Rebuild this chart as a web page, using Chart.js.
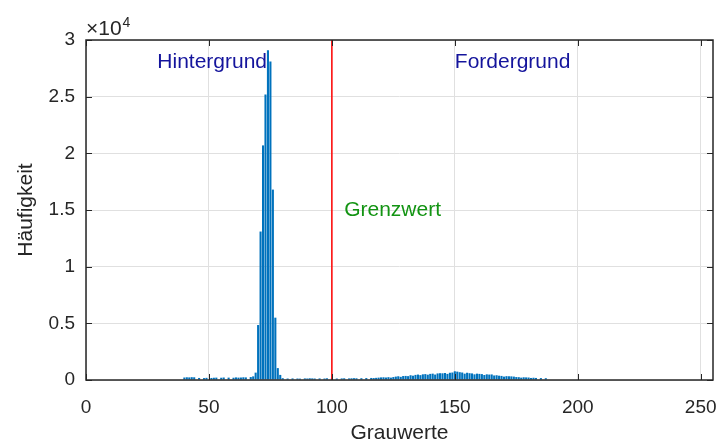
<!DOCTYPE html>
<html>
<head>
<meta charset="utf-8">
<script src="https://cdn.jsdelivr.net/npm/chart.js@4.4.0/dist/chart.umd.min.js"></script>
<style>
  html, body { margin: 0; padding: 0; background: #fff; }
  canvas { display: block; }
</style>
</head>
<body>
<canvas id="chart" width="720" height="444"></canvas>
<script>
// Histogramm der Grauwerte 0..255
const grauwerte = Array.from({ length: 256 }, (_, i) => i);
const haeufigkeit = [
    0, 0, 0, 0, 0, 0, 0, 0, 0, 0, 0, 0, 0, 0, 0, 0,
    0, 0, 0, 0, 0, 0, 0, 0, 0, 0, 0, 0, 0, 0, 0, 0,
    0, 0, 0, 0, 0, 0, 0, 0, 220, 240, 230, 250, 240, 0, 180, 0,
    170, 190, 0, 180, 200, 210, 0, 200, 220, 0, 210, 0, 200, 230, 210, 220,
    240, 230, 0, 260, 320, 650, 4850, 13100, 20700, 25200, 29100, 28100, 16800, 5500, 1050, 450,
    160, 0, 130, 0, 140, 0, 130, 120, 0, 140, 130, 150, 140, 130, 0, 140,
    0, 130, 150, 0, 140, 0, 130, 0, 140, 150, 0, 140, 150, 160, 150, 0,
    160, 0, 170, 0, 180, 170, 190, 210, 230, 240, 220, 250, 210, 260, 300, 330,
    280, 350, 360, 340, 420, 380, 450, 480, 430, 500, 520, 470, 540, 560, 480, 580,
    600, 590, 620, 540, 640, 660, 770, 740, 690, 660, 560, 640, 600, 580, 500, 560,
    540, 520, 440, 500, 480, 490, 400, 420, 380, 360, 300, 340, 330, 320, 300, 260,
    250, 210, 240, 230, 220, 180, 200, 180, 0, 170, 0, 160, 0, 0, 0, 0,
    0, 0, 0, 0, 0, 0, 0, 0, 0, 0, 0, 0, 0, 0, 0, 0,
    0, 0, 0, 0, 0, 0, 0, 0, 0, 0, 0, 0, 0, 0, 0, 0,
    0, 0, 0, 0, 0, 0, 0, 0, 0, 0, 0, 0, 0, 0, 0, 0,
    0, 0, 0, 0, 0, 0, 0, 0, 0, 0, 0, 0, 0, 0, 0, 0
];
const schwellwert = 100;
const xTicks = [0, 50, 100, 150, 200, 250];
const yTicks = [0, 5000, 10000, 15000, 20000, 25000, 30000];
const beschriftungen = [
    { text: 'Hintergrund', x: 29, y: 28000, color: '#14149c' },
    { text: 'Fordergrund', x: 150, y: 28000, color: '#14149c' },
    { text: 'Grenzwert', x: 105, y: 15000, color: '#139413' }
];

const axisColor = '#262626';
const fontFamily = '"Liberation Sans", Arial, Helvetica, sans-serif';

const rahmenPlugin = {
    id: 'rahmen',
    afterDraw(chart) {
        const ctx = chart.ctx;
        const a = chart.chartArea;
        const x = chart.scales.x;
        const y = chart.scales.y;
        ctx.save();
        ctx.strokeStyle = axisColor;
        ctx.lineWidth = 1;
        ctx.beginPath();
        xTicks.forEach(v => {
            const px = Math.round(x.getPixelForValue(v)) + 0.5;
            ctx.moveTo(px, a.bottom); ctx.lineTo(px, a.bottom - 6);
            ctx.moveTo(px, a.top); ctx.lineTo(px, a.top + 6);
        });
        yTicks.forEach(v => {
            const py = Math.round(y.getPixelForValue(v)) + 0.5;
            ctx.moveTo(a.left, py); ctx.lineTo(a.left + 6, py);
            ctx.moveTo(a.right, py); ctx.lineTo(a.right - 6, py);
        });
        ctx.stroke();
        ctx.lineWidth = 1.5;
        ctx.strokeRect(a.left, a.top, a.right - a.left, a.bottom - a.top);

        // Exponent
        ctx.fillStyle = axisColor;
        ctx.textBaseline = 'alphabetic';
        ctx.textAlign = 'left';
        ctx.font = '21px ' + fontFamily;
        ctx.fillText('\u00d710', a.left, 35);
        const w = ctx.measureText('\u00d710').width;
        ctx.font = '14px ' + fontFamily;
        ctx.fillText('4', a.left + w + 1, 27);

        // Texte im Diagramm
        ctx.font = '21px ' + fontFamily;
        ctx.textBaseline = 'middle';
        beschriftungen.forEach(b => {
            ctx.fillStyle = b.color;
            ctx.fillText(b.text, x.getPixelForValue(b.x), y.getPixelForValue(b.y));
        });
        ctx.restore();
    }
};

const ctx = document.getElementById('chart').getContext('2d');
new Chart(ctx, {
    type: 'bar',
    data: {
        datasets: [
            {
                type: 'bar',
                data: grauwerte.map((g, i) => ({ x: g, y: haeufigkeit[i] })),
                backgroundColor: '#0072bd',
                borderWidth: 0,
                barPercentage: 0.85,
                categoryPercentage: 1.0,
                order: 2
            },
            {
                type: 'line',
                data: [{ x: schwellwert, y: 0 }, { x: schwellwert, y: 30000 }],
                borderColor: '#ff0000',
                borderWidth: 1.5,
                pointRadius: 0,
                fill: false,
                order: 1
            }
        ]
    },
    options: {
        responsive: false,
        animation: false,
        devicePixelRatio: 1,
        layout: { padding: { top: 40, right: 7, left: 0, bottom: 0 } },
        plugins: { legend: { display: false }, tooltip: { enabled: false } },
        scales: {
            x: {
                type: 'linear',
                min: 0,
                max: 255,
                offset: false,
                afterBuildTicks: s => { s.ticks = xTicks.map(v => ({ value: v })); },
                afterFit: s => { s.height = 64; s.paddingLeft = 0; s.paddingRight = 0; },
                grid: { color: '#e0e0e0', drawTicks: false, lineWidth: 1, offset: false },
                border: { display: false },
                ticks: { color: axisColor, font: { family: fontFamily, size: 19 }, padding: 16, maxRotation: 0 },
                title: { display: true, text: 'Grauwerte', color: axisColor, font: { family: fontFamily, size: 21 }, padding: { top: 0, bottom: -2 } }
            },
            y: {
                min: 0,
                max: 30000,
                afterBuildTicks: s => { s.ticks = yTicks.map(v => ({ value: v })); },
                afterFit: s => { s.width = 86; s.paddingTop = 0; s.paddingBottom = 0; },
                grid: { color: '#e0e0e0', drawTicks: false, lineWidth: 1 },
                border: { display: false },
                ticks: {
                    color: axisColor,
                    font: { family: fontFamily, size: 19 },
                    padding: 11,
                    callback: v => String(v / 10000)
                },
                title: { display: true, text: 'H\u00e4ufigkeit', color: axisColor, font: { family: fontFamily, size: 21 }, padding: { top: 14, bottom: 0 } }
            }
        }
    },
    plugins: [rahmenPlugin]
});
</script>
</body>
</html>
